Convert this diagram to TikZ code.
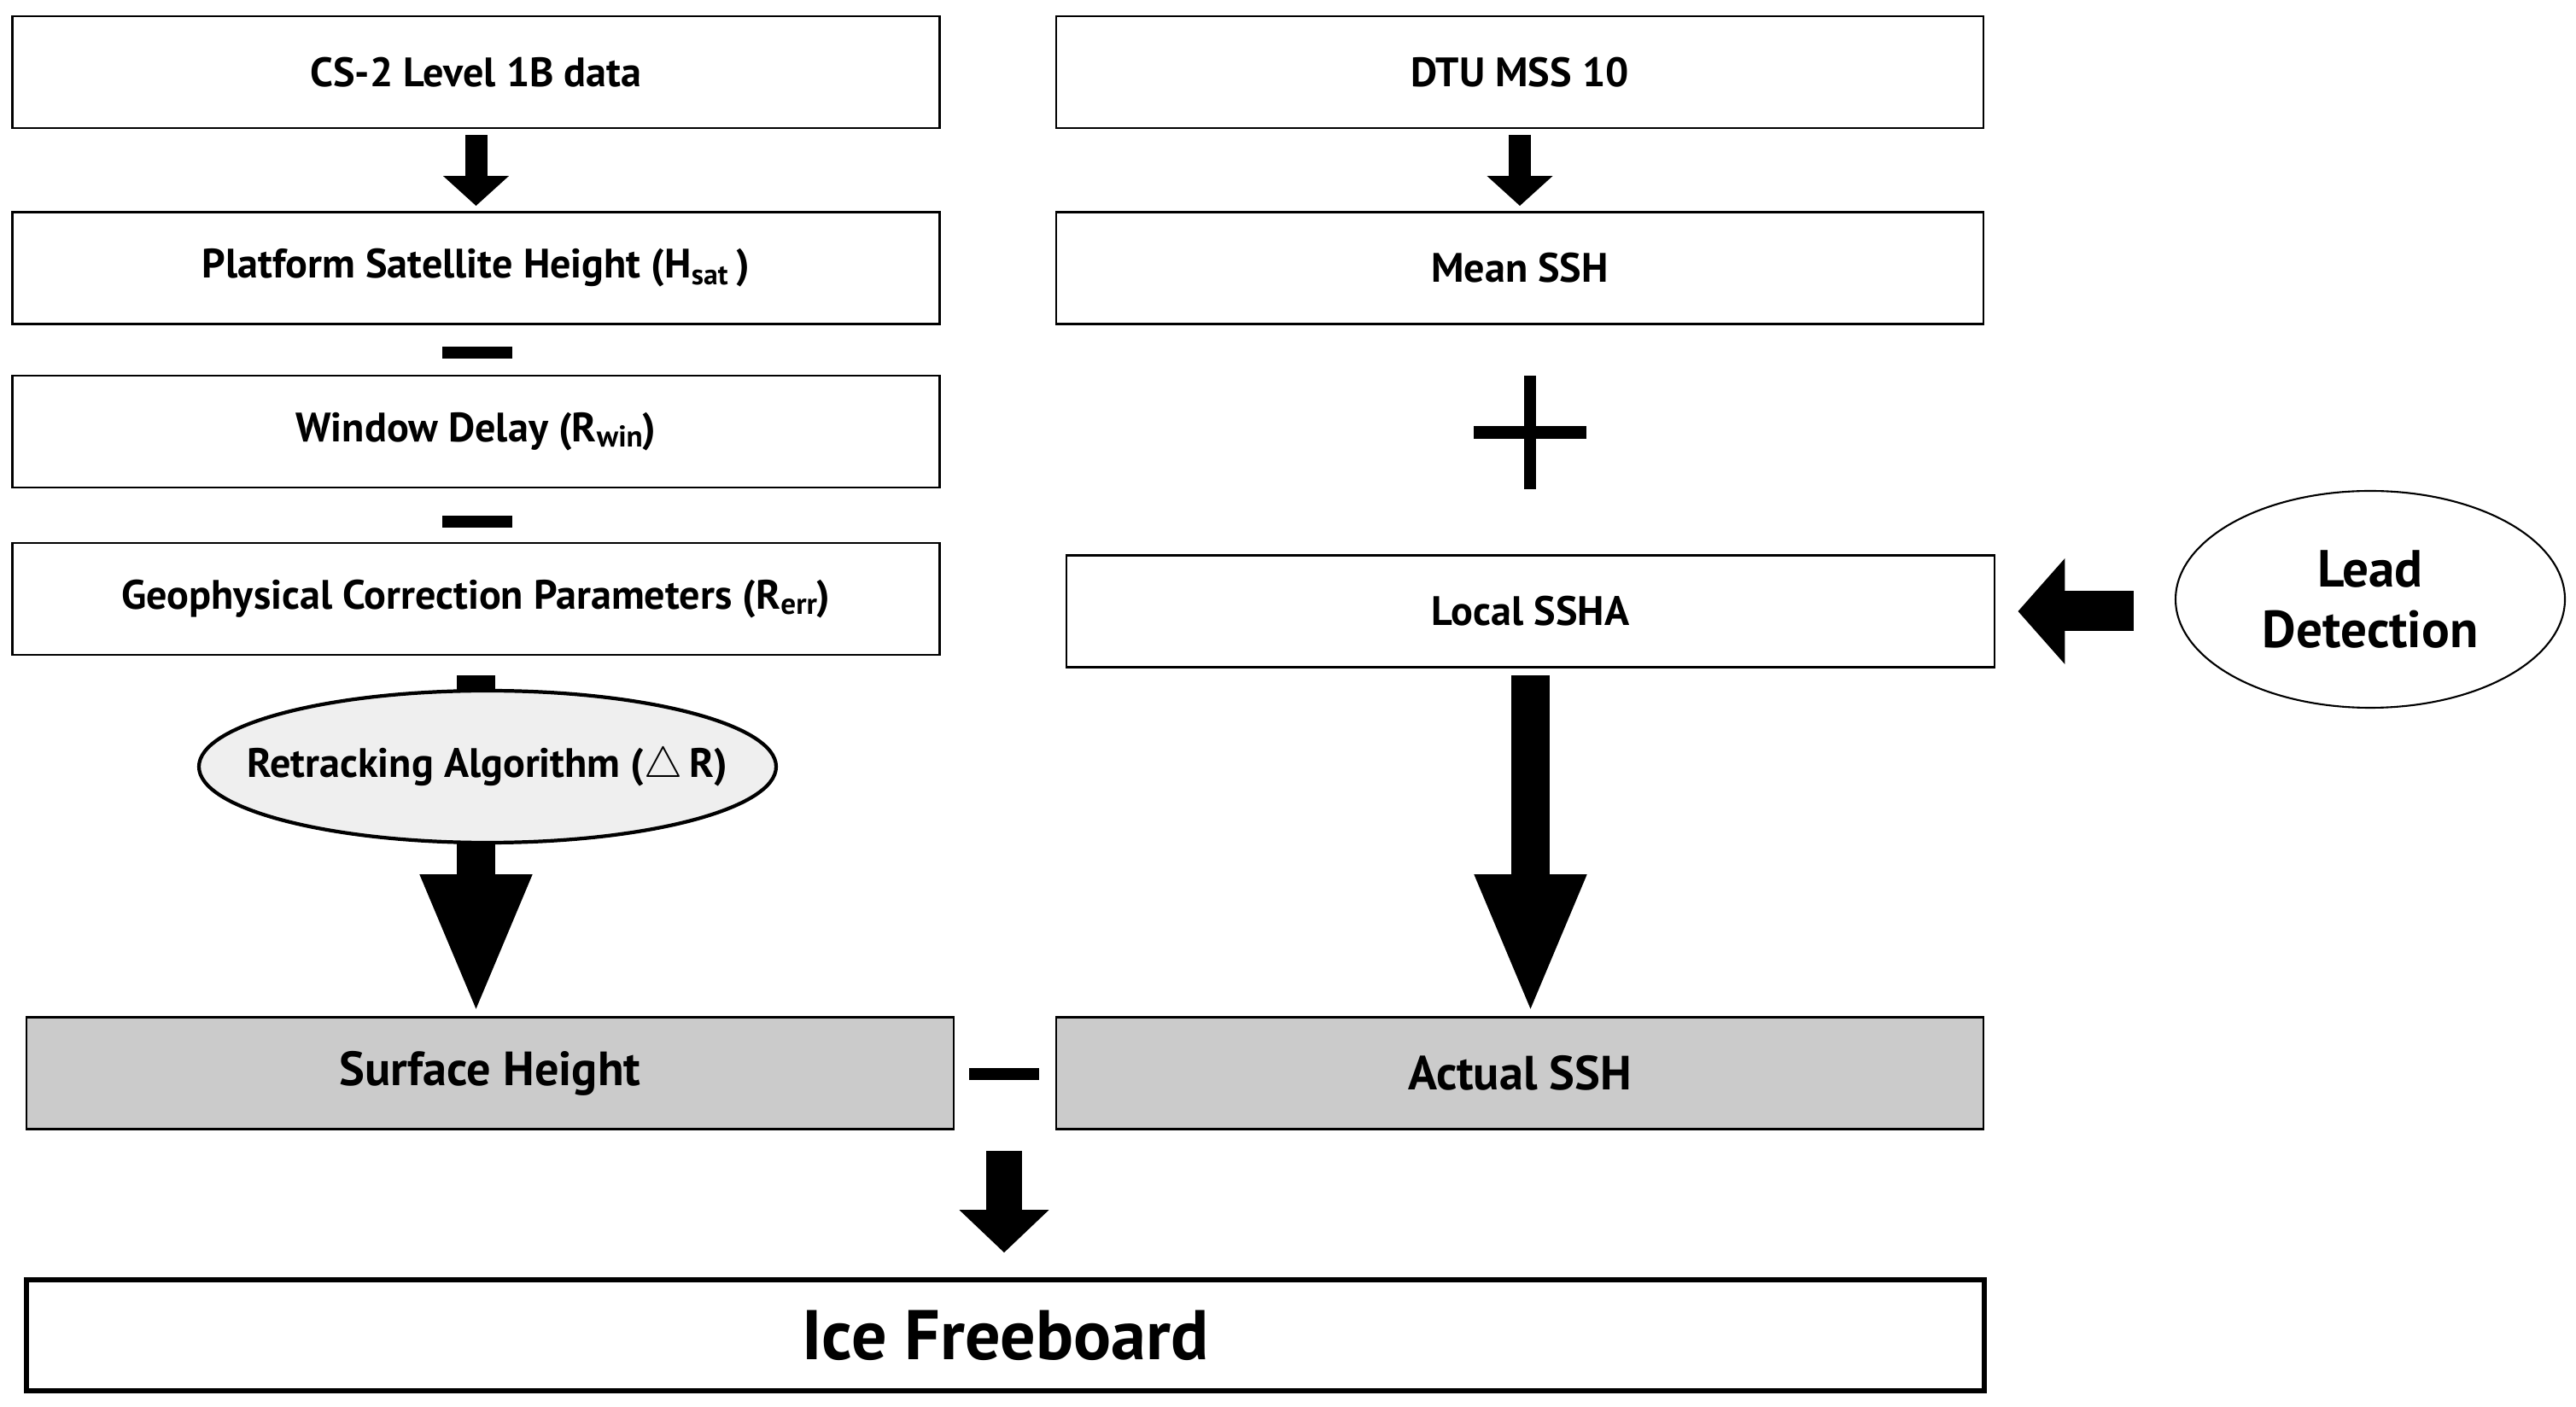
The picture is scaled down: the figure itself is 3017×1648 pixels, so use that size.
\documentclass[tikz,border=0pt]{standalone}
\usepackage{fontspec}
\setmainfont{PT Sans}
\usetikzlibrary{arrows.meta,shapes.geometric}
\definecolor{boxgray}{HTML}{CBCBCB}
\definecolor{ovalgray}{HTML}{EFEFEF}
\newcommand{\lowtxt}[1]{\raisebox{-0.25ex}{\fontsize{10}{10}\selectfont #1}}
\tikzset{
  box/.style={draw, line width=0.8pt, minimum width=108.6mm, minimum height=13.1mm,
    inner sep=0pt, font=\bfseries\fontsize{13.7}{16}\selectfont},
  graybox/.style={box, fill=boxgray, font=\bfseries\fontsize{16}{19}\selectfont},
  minusbar/.style={fill, minimum width=8.2mm, minimum height=1.4mm, inner sep=0pt},
  thinarrow/.style={line width=2.6mm, -{Triangle[width=7.5mm,length=3.5mm]}},
  midarrow/.style={line width=4.2mm, -{Triangle[width=10.2mm,length=5mm]}},
  fatarrow/.style={line width=4.5mm, -{Triangle[width=11.8mm,length=16.6mm]}},
  sidearrow/.style={line width=4.7mm, -{Triangle[width=12.1mm,length=5.5mm]}}
}
\begin{document}
\begin{tikzpicture}[x=0.1mm,y=-0.1mm]
  \useasboundingbox (0,0) rectangle (3017,1648);
  % left column
  \node[box] (cs2) at (557.5,84.5) {CS-2 Level 1B data};
  \node[box] (plat) at (557.5,314) {Platform Satellite Height (H\textsubscript{sat}\,)};
  \node[minusbar] (m1) at (558.5,413.5) {};
  \node[box] (win) at (557.5,505.5) {Window Delay (R\lowtxt{win})};
  \node[minusbar] (m2) at (558.5,611.5) {};
  \node[box] (geo) at (557.5,701.5) {Geophysical Correction Parameters (R\lowtxt{err})};
  % right column
  \node[box] (dtu) at (1780,84.5) {DTU MSS 10};
  \node[box] (mean) at (1780,314) {Mean SSH};
  \fill (1785,440) rectangle (1799,573);
  \fill (1726,499) rectangle (1858,514);
  \node[box, minimum width=108.7mm] (ssha) at (1792.5,716) {Local SSHA};
  \node[ellipse, draw, line width=0.6pt, minimum width=45.6mm, minimum height=25.4mm,
    inner sep=0pt, align=center, font=\bfseries\fontsize{17.4}{20}\selectfont]
    (lead) at (2776,702) {Lead\\Detection};
  % results
  \node[graybox] (surf) at (574,1257) {Surface Height};
  \node[minusbar] (m3) at (1176,1258) {};
  \node[graybox] (act) at (1780,1257) {Actual SSH};
  \node[draw, line width=1.6pt, minimum width=229.3mm, minimum height=13mm, inner sep=0pt,
    font=\bfseries\fontsize{23.4}{26}\selectfont] (ice) at (1177.5,1564) {Ice Freeboard};

  \draw[thinarrow] ([yshift=-0.7mm]cs2.south) -- ([yshift=0.6mm]plat.north);
  \draw[thinarrow] ([yshift=-0.7mm]dtu.south) -- ([yshift=0.6mm]mean.north);
  \draw[fatarrow] ([yshift=-2.3mm]geo.south) -- (geo.south |- surf.north);
  \draw[fatarrow] ([yshift=-0.8mm]ssha.south) -- (ssha.south |- act.north);
  \coordinate (leadtail) at ([xshift=-4.8mm]lead.west);
  \draw[sidearrow] (leadtail |- ssha.east) -- ([xshift=2.6mm]ssha.east);
  \coordinate (ftop) at (m3 |- surf.south);
  \coordinate (fend) at (m3 |- ice.north);
  \draw[midarrow] ([yshift=-2.4mm]ftop) -- ([yshift=2.9mm]fend);

  \node[ellipse, draw, line width=1.2pt, fill=ovalgray, minimum width=67.6mm,
    minimum height=17.8mm, inner sep=0pt,
    label={[font=\bfseries\fontsize{13.7}{16}\selectfont]center:Retracking Algorithm ($\triangle$\,R)}]
    (retrack) at (571,898) {};
\end{tikzpicture}
\end{document}
